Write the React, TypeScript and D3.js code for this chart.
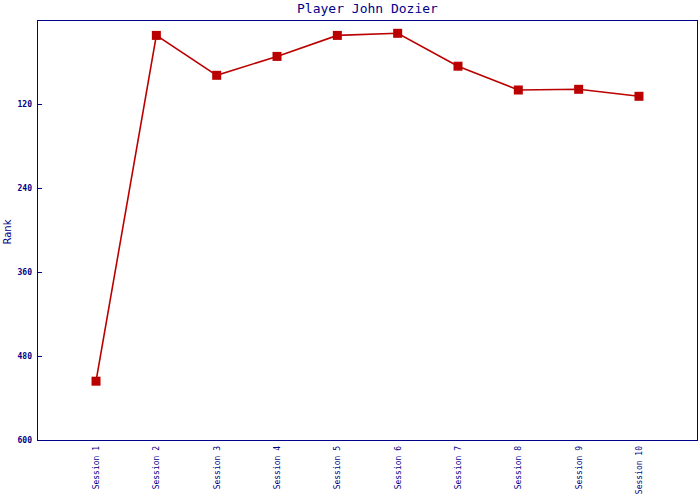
import { useEffect, useRef } from 'react'
import * as d3 from 'd3'

const sessions = ['Session 1', 'Session 2', 'Session 3', 'Session 4', 'Session 5', 'Session 6', 'Session 7', 'Session 8', 'Session 9', 'Session 10']
const ranks = [516, 22, 79, 52, 22, 19, 66, 100, 99, 109]
const rankTicks = [120, 240, 360, 480, 600]

const NAVY = '#000088'
const RED = '#bb0000'
const MONO = '"DejaVu Sans Mono", monospace'

export default function App() {
  const svgRef = useRef<SVGSVGElement>(null)

  useEffect(() => {
    if (!svgRef.current) return
    const svg = d3.select(svgRef.current)
    svg.selectAll('*').remove()

    const width = 700
    const height = 500
    const margin = { top: 20, right: 2, bottom: 60, left: 37 }

    const x = d3.scalePoint<string>()
      .domain(sessions)
      .range([margin.left - 1.3, width - 0.7])
      .padding(1)

    const y = d3.scaleLinear()
      .domain([0, 600])
      .range([margin.top, height - margin.bottom])

    // frame
    svg.append('rect')
      .attr('x', margin.left + 0.5)
      .attr('y', margin.top + 0.5)
      .attr('width', width - margin.left - margin.right - 1)
      .attr('height', height - margin.top - margin.bottom)
      .attr('fill', 'none')
      .attr('stroke', NAVY)
      .attr('stroke-width', 1.5)
      .attr('shape-rendering', 'crispEdges')

    // Y ticks (inward) and labels
    const yAxis = svg.append('g')
    yAxis.selectAll('line')
      .data(rankTicks)
      .enter()
      .append('line')
      .attr('x1', margin.left)
      .attr('x2', margin.left + 5)
      .attr('y1', d => Math.round(y(d)) + 0.5)
      .attr('y2', d => Math.round(y(d)) + 0.5)
      .attr('stroke', NAVY)
      .attr('stroke-width', 1.5)
      .attr('shape-rendering', 'crispEdges')
    yAxis.selectAll('text')
      .data(rankTicks)
      .enter()
      .append('text')
      .attr('x', margin.left - 5)
      .attr('y', d => y(d))
      .attr('dy', '0.35em')
      .attr('text-anchor', 'end')
      .style('font-family', MONO)
      .style('font-size', '8px')
      .style('font-weight', 'bold')
      .style('fill', NAVY)
      .text(d => d)

    // X labels, rotated
    svg.append('g')
      .selectAll('text')
      .data(sessions)
      .enter()
      .append('text')
      .attr('transform', d => `translate(${(x(d) || 0) + 3},${height - margin.bottom + 6}) rotate(-90)`)
      .attr('text-anchor', 'end')
      .style('font-family', MONO)
      .style('font-size', '8px')
      .style('fill', NAVY)
      .text(d => d)

    // Y title
    svg.append('text')
      .attr('transform', `translate(11,${(margin.top + height - margin.bottom) / 2 + 2}) rotate(-90)`)
      .attr('text-anchor', 'middle')
      .style('font-family', '"DejaVu Sans", sans-serif')
      .style('font-size', '10px')
      .style('fill', NAVY)
      .text('Rank')

    // Title
    svg.append('text')
      .attr('x', (margin.left + width - margin.right) / 2)
      .attr('y', 13)
      .attr('text-anchor', 'middle')
      .style('font-family', MONO)
      .style('font-size', '13px')
      .style('fill', NAVY)
      .text('Player John Dozier')

    const line = d3.line<number>()
      .x((_, i) => x(sessions[i]) || 0)
      .y(d => y(d))

    svg.append('path')
      .datum(ranks)
      .attr('d', line)
      .attr('fill', 'none')
      .attr('stroke', RED)
      .attr('stroke-width', 1.6)

    svg.selectAll('.marker')
      .data(ranks)
      .enter()
      .append('rect')
      .attr('class', 'marker')
      .attr('x', (_, i) => (x(sessions[i]) || 0) - 4.5)
      .attr('y', d => y(d) - 4.5)
      .attr('width', 9)
      .attr('height', 9)
      .attr('fill', RED)
  }, [])

  return (
    <svg ref={svgRef} width={700} height={500} style={{ position: 'absolute', left: 0, top: 0, background: '#fff' }} />
  )
}
